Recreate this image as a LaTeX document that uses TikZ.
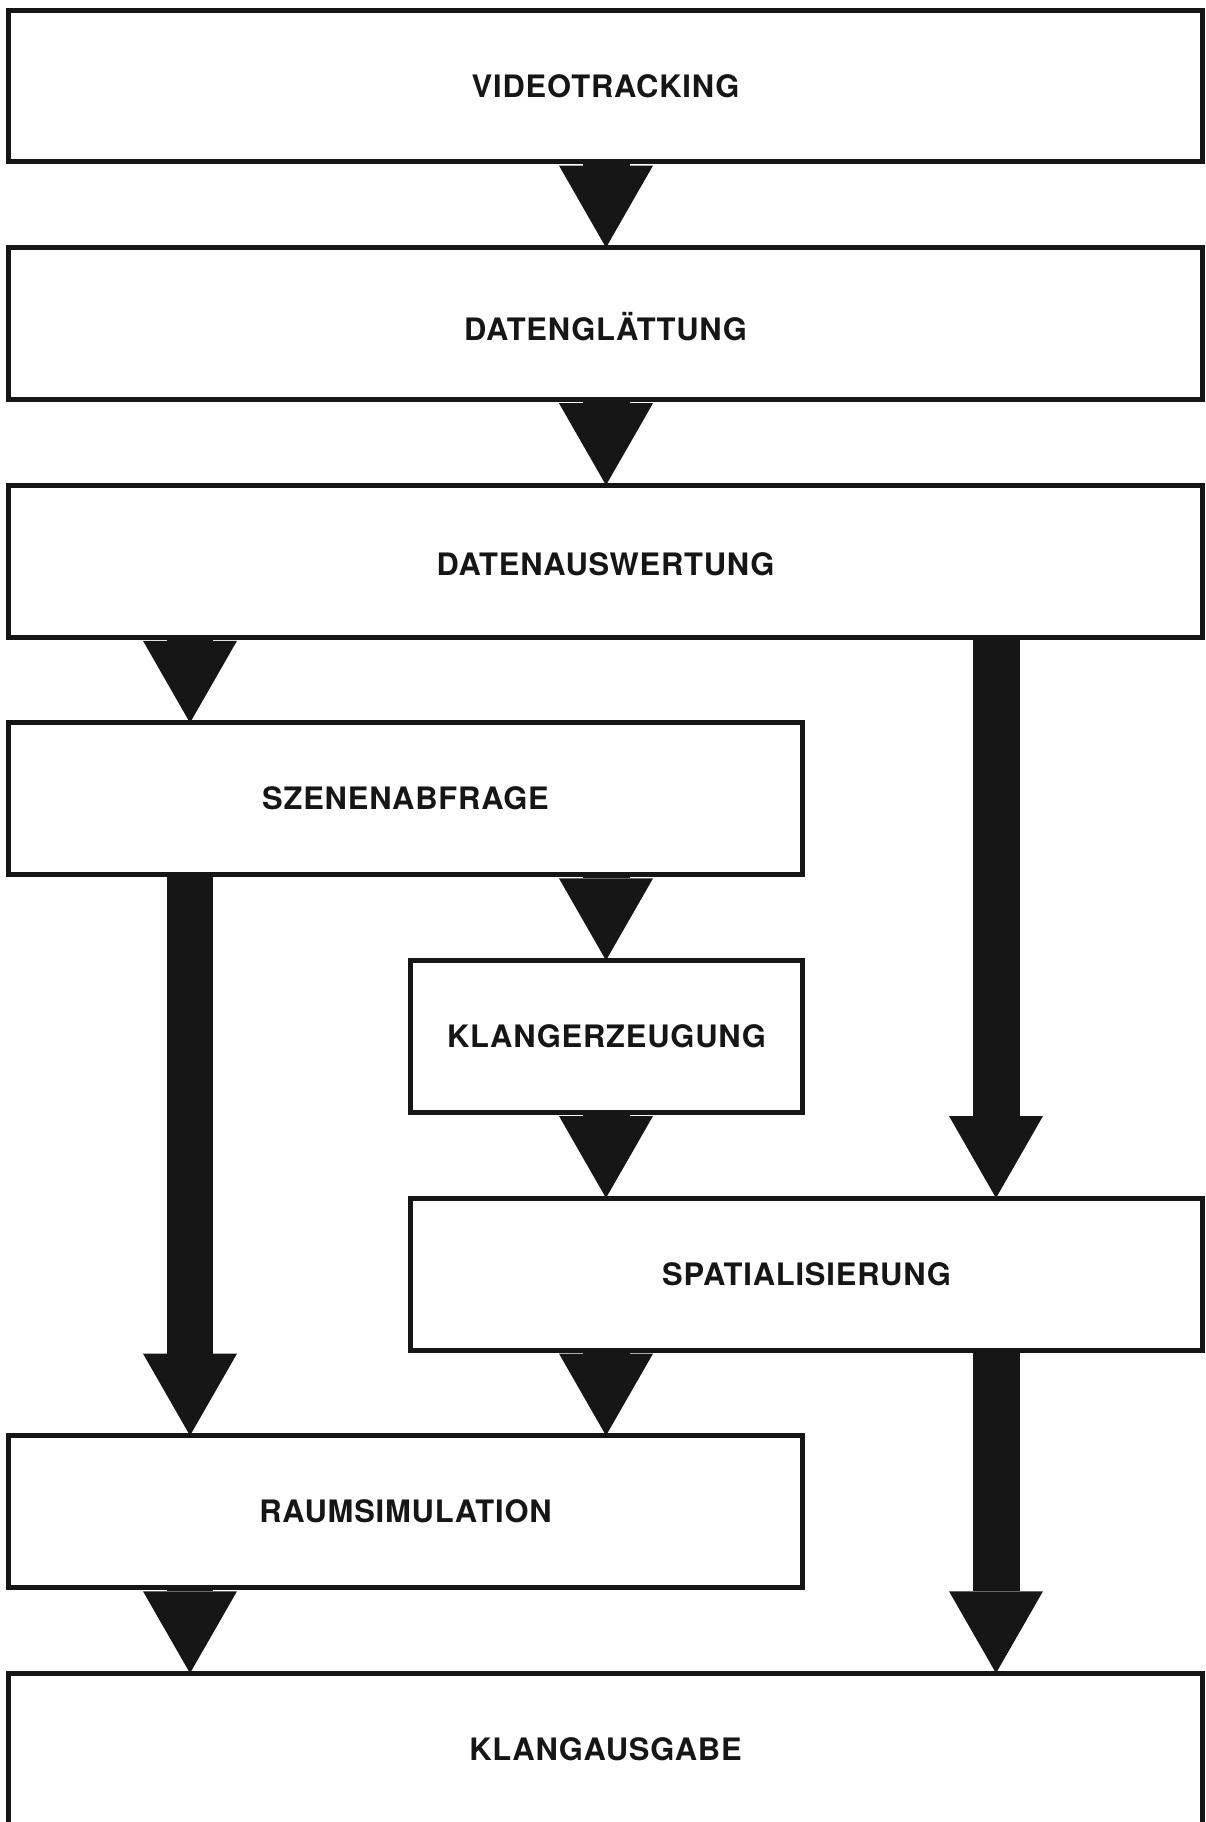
\documentclass[tikz,border=0pt]{standalone}
\usepackage{fontspec}
\setmainfont{TeX Gyre Heros}[LetterSpace=2.6]
\usetikzlibrary{arrows.meta,positioning}

\definecolor{ink}{RGB}{22,22,22}

\begin{document}
\begin{tikzpicture}[x=0.02cm,y=-0.02cm,
  stage/.style={draw=ink, line width=0.1cm, fill=white, minimum height=3.04cm,
    inner sep=0pt, outer sep=0pt, text=ink, text height=12.7pt, text depth=0pt,
    font=\fontsize{17.6}{20}\selectfont\bfseries},
  fatarrow/.style={draw=ink, line width=0.94cm,
    -{Triangle[width=1.88cm,length=1.64cm,line width=0pt]}}]
  \clip (0,0) rectangle (1206,1822);

  % columns of the arrows
  \coordinate (lcol) at (190,0);
  \coordinate (mcol) at (606,0);
  \coordinate (rcol) at (996,0);

  % Processing stages
  \node[stage, minimum width=23.9cm]  (video)   at (605.5,86)    {VIDEOTRACKING};
  \node[stage, minimum width=23.9cm, text height=19.5pt] (glaett) at (605.5,323.6) {DATENGLÄTTUNG};
  \node[stage, minimum width=23.9cm, text height=16pt]   (auswert) at (605.5,561.2) {DATENAUSWERTUNG};
  \node[stage, minimum width=15.9cm]  (szene)   at (405.5,798.8) {SZENENABFRAGE};
  \node[stage, minimum width=7.86cm]  (klang)   at (606.5,1036.4) {KLANGERZEUGUNG};
  \node[stage, minimum width=15.86cm] (spatial) at (806.5,1274)  {SPATIALISIERUNG};
  \node[stage, minimum width=15.9cm]  (raum)    at (405.5,1511.6) {RAUMSIMULATION};
  \node[stage, minimum width=23.9cm]  (ausgabe) at (605.5,1749.2) {KLANGAUSGABE};

  % Arrows between the stages
  \foreach \from/\to/\col in {video/glaett/mcol, glaett/auswert/mcol,
      auswert/szene/lcol, szene/klang/mcol, klang/spatial/mcol,
      spatial/raum/mcol, raum/ausgabe/lcol, auswert/spatial/rcol,
      szene/raum/lcol, spatial/ausgabe/rcol} {
    \draw[fatarrow] (\from.south -| \col) -- (\to.north -| \col);
  }
\end{tikzpicture}
\end{document}
